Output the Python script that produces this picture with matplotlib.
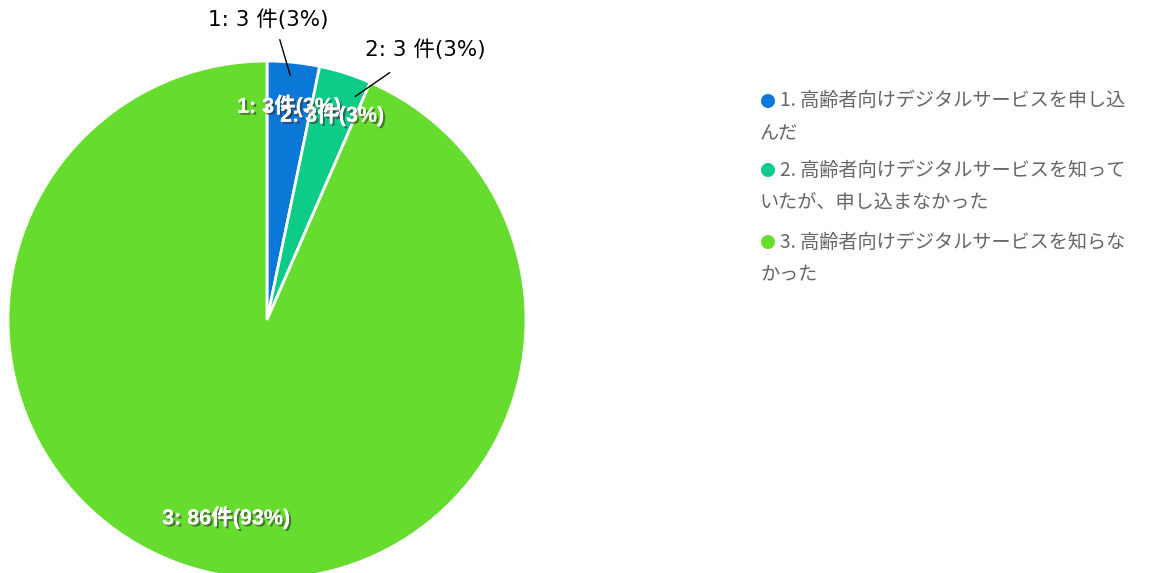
import matplotlib
matplotlib.use("Agg")
import matplotlib.pyplot as plt
import matplotlib.patheffects as pe
import numpy as np

plt.rcParams['font.family'] = ['Noto Sans CJK JP', 'DejaVu Sans']

# Survey answers and counts
categories = [
    "1. 高齢者向けデジタルサービスを申し込んだ",
    "2. 高齢者向けデジタルサービスを知っていたが、申し込まなかった",
    "3. 高齢者向けデジタルサービスを知らなかった",
]
legend_lines = [
    ["1. 高齢者向けデジタルサービスを申し込", "んだ"],
    ["2. 高齢者向けデジタルサービスを知って", "いたが、申し込まなかった"],
    ["3. 高齢者向けデジタルサービスを知らな", "かった"],
]
counts = [3, 3, 86]
colors = ["#0b78d8", "#0ccc88", "#66dd2e"]

W, H = 1149, 573
fig = plt.figure(figsize=(W / 100, H / 100), dpi=100)

# Pie axes: a square box so the unit circle spans the chosen pixel area
cx, cy, r = 267, 320, 259
ax = fig.add_axes([(cx - r) / W, (H - cy - r) / H, 2 * r / W, 2 * r / H])
total = sum(counts)
wedges, _ = ax.pie(counts, colors=colors, startangle=90, counterclock=False,
                   radius=1.0, wedgeprops=dict(edgecolor="white", linewidth=2))
ax.set_xlim(-1, 1)
ax.set_ylim(-1, 1)
ax.axis("off")

shadow = [pe.withSimplePatchShadow(offset=(1.5, -1.5), shadow_rgbFace="#333333", alpha=0.6),
          pe.Normal()]
inner_font = ['Liberation Sans', 'Noto Sans CJK JP']
inner_dist = [0.83, 0.83, 0.78]
for i, (w, c) in enumerate(zip(wedges, counts)):
    mid = np.deg2rad((w.theta1 + w.theta2) / 2)
    pct = round(c / total * 100)
    if i == 2:
        pct = int(c / total * 100)
    ax.text(inner_dist[i] * np.cos(mid), inner_dist[i] * np.sin(mid),
            f"{i + 1}: {c}件({pct}%)", color="white", fontsize=15.5,
            fontweight="bold", family=inner_font,
            ha="center", va="center", path_effects=shadow)

# Outside callouts for the two small slices
outer_font = ['DejaVu Sans', 'Noto Sans CJK JP']
outer = [((268, 20), (279, 37), (291, 78)),
         ((425, 50), (392, 71), (353, 98))]
for i, ((tx, ty), (lx0, ly0), (lx1, ly1)) in enumerate(outer):
    c = counts[i]
    pct = round(c / total * 100)
    to_d = lambda x, y: ((x - cx) / r, (cy - y) / r)
    ax.annotate("", xy=to_d(lx1, ly1), xytext=to_d(lx0, ly0),
                arrowprops=dict(arrowstyle="-", color="black", lw=1),
                annotation_clip=False)
    ax.text(*to_d(tx, ty), f"{i + 1}: {c} 件({pct}%)", color="black",
            fontsize=15.5, family=outer_font,
            ha="center", va="center", clip_on=False)

# Legend with wrapped labels
ly = [101, 170, 242]
for i, lines in enumerate(legend_lines):
    y = ly[i]
    fig.patches.append(matplotlib.patches.Ellipse(
        (768 / W, (H - y) / H), 14 / W, 14 / H, transform=fig.transFigure,
        facecolor=colors[i], edgecolor="none"))
    fig.text(780 / W, (H - y) / H, lines[0], color="#666666", fontsize=13.8,
             ha="left", va="center")
    fig.text(760 / W, (H - y - 33) / H, lines[1], color="#666666", fontsize=13.8,
             ha="left", va="center")

fig.savefig("out.png", dpi=100)
